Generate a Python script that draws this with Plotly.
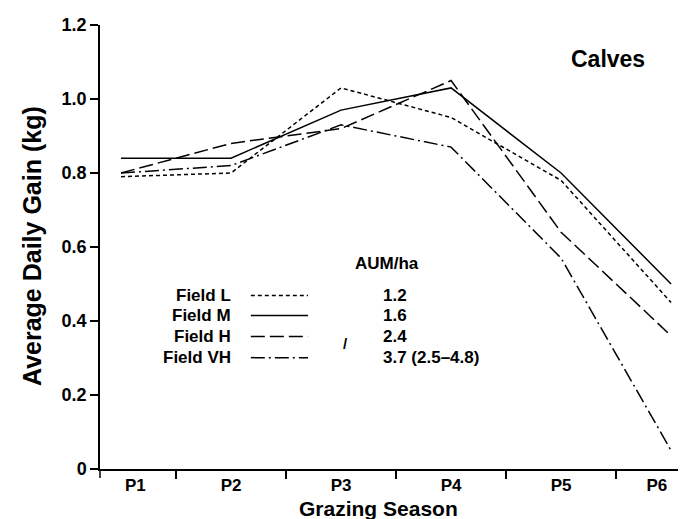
import plotly.graph_objects as go

periods = ["P1", "P2", "P3", "P4", "P5", "P6"]
x_pos = [1, 2, 3, 4, 5, 6]
field_l = [0.79, 0.80, 1.03, 0.95, 0.78, 0.45]
field_m = [0.84, 0.84, 0.97, 1.03, 0.80, 0.50]
field_h = [0.80, 0.88, 0.92, 1.05, 0.64, 0.36]
field_vh = [0.80, 0.82, 0.93, 0.87, 0.57, 0.05]

legend_names = ["Field L", "Field M", "Field H", "Field VH"]
legend_aum = ["1.2", "1.6", "2.4", "3.7 (2.5\u20134.8)"]
y_ticks = [0, 0.2, 0.4, 0.6, 0.8, 1.0, 1.2]
y_tick_text = ["0", "0.2", "0.4", "0.6", "0.8", "1.0", "1.2"]

FONT = "Liberation Sans, Arial, sans-serif"
dashes = ["4px,3px", "solid", "14px,5px", "14px,4px,2px,4px"]
series = [field_l, field_m, field_h, field_vh]

fig = go.Figure()
for name, vals, d in zip(legend_names, series, dashes):
    fig.add_trace(go.Scatter(x=x_pos, y=vals, mode="lines", name=name,
                             line=dict(color="black", width=1.5, dash=d),
                             showlegend=False))

# label positions for period tick labels
label_x = [1.13, 2, 3, 4, 5, 5.87]

fig.update_layout(
    width=686, height=519,
    margin=dict(l=92, r=2, t=17, b=58),
    paper_bgcolor="white", plot_bgcolor="white",
    font=dict(family=FONT, color="black"),
    xaxis=dict(range=[0.809, 6.19], showgrid=False, zeroline=False,
               showline=True, linecolor="black", linewidth=1.5,
               tickvals=label_x, ticktext=periods, ticks="",
               tickfont=dict(size=17, family=FONT, weight="bold"),
               minor=dict(tickvals=[1.5, 2.5, 3.5, 4.5, 5.5, 6.185], ticks="outside",
                          ticklen=8, tickwidth=1.5, tickcolor="black")),
    yaxis=dict(range=[0, 1.2], showgrid=False, zeroline=False,
               showline=True, linecolor="black", linewidth=1.5,
               tickvals=y_ticks, ticktext=y_tick_text, ticks="outside",
               ticklen=8, tickwidth=1.5, tickcolor="black",
               tickfont=dict(size=18, family=FONT, weight="bold")),
)

# axis titles
fig.add_annotation(text="Grazing Season", xref="paper", yref="paper",
                   x=(370 - 92) / 592, y=(461 - 500) / 444,
                   xanchor="center", yanchor="middle", showarrow=False,
                   font=dict(size=21, family=FONT, weight="bold"))
fig.add_annotation(text="Average Daily Gain (kg)", xref="paper", yref="paper",
                   x=(24 - 92) / 592, y=(461 - 238) / 444, textangle=-90,
                   xanchor="center", yanchor="middle", showarrow=False,
                   font=dict(size=25, family=FONT, weight="bold"))

# y-axis stub below zero
fig.add_shape(type="line", xref="paper", yref="paper", x0=0, x1=0, y0=0, y1=-0.02,
              line=dict(color="black", width=1.5))

fig.add_annotation(text="Calves", x=5.78, y=1.108, xref="x", yref="y", showarrow=False,
                   xanchor="right", font=dict(size=23, family=FONT, weight="bold"))

fig.add_annotation(text="AUM/ha", x=3.42, y=0.556, xref="x", yref="y", showarrow=False,
                   font=dict(size=17, family=FONT, weight="bold"))

rows_y = [0.469, 0.415, 0.358, 0.301]
for nm, aum, d, yy in zip(legend_names, legend_aum, dashes, rows_y):
    fig.add_annotation(text=nm, x=2.02, y=yy, xref="x", yref="y", showarrow=False,
                       xanchor="right", font=dict(size=17, family=FONT, weight="bold"))
    fig.add_annotation(text=aum, x=3.36, y=yy, xref="x", yref="y", showarrow=False,
                       xanchor="left", font=dict(size=17, family=FONT, weight="bold"))
    fig.add_shape(type="line", xref="x", yref="y", x0=2.18, x1=2.70, y0=yy, y1=yy,
                  line=dict(color="black", width=1.5, dash=d))

fig.add_annotation(text="/", x=3.04, y=0.34, xref="x", yref="y", showarrow=False,
                   font=dict(size=15, family=FONT, weight="bold"))

fig.write_html("out.html")
